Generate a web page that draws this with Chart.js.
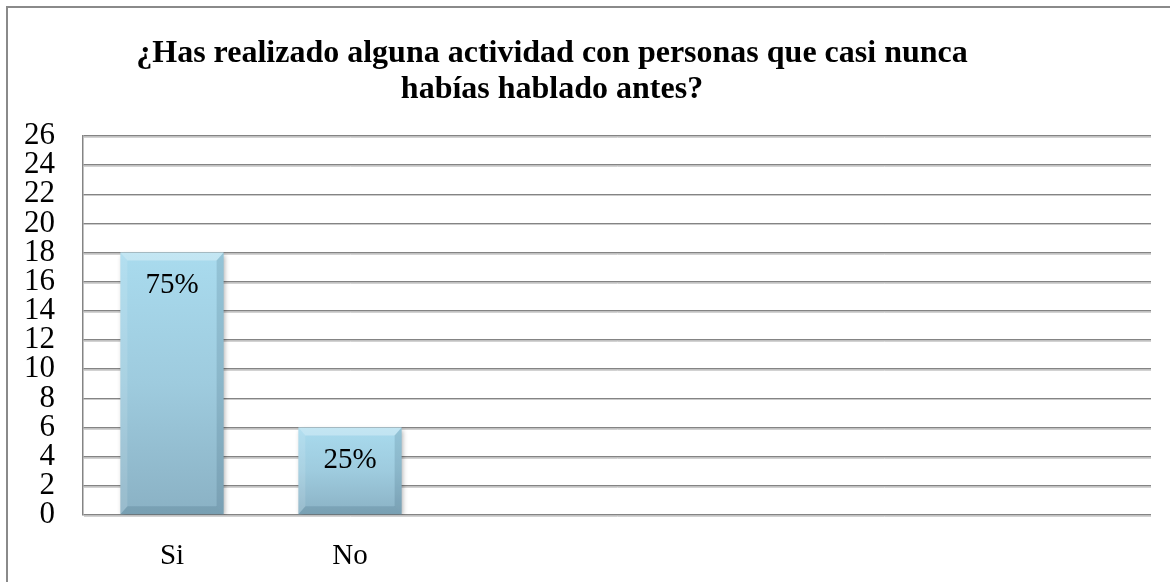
<!DOCTYPE html>
<html>
<head>
<meta charset="utf-8">
<script src="https://cdn.jsdelivr.net/npm/chart.js@4.4.0/dist/chart.umd.min.js"></script>
<style>
  html, body { margin: 0; padding: 0; background: #ffffff; overflow: hidden; }
  #wrap { position: absolute; left: 0; top: 0; width: 1170px; height: 582px; }
</style>
</head>
<body>
<div id="wrap"><canvas id="c"></canvas></div>
<script>
// Survey answers
const categories = ['Si', 'No', '', '', '', ''];
const respuestas = [18, 6];
const yTicks = [0, 2, 4, 6, 8, 10, 12, 14, 16, 18, 20, 22, 24, 26];
const titleLines = [
  '¿Has realizado alguna actividad con personas que casi nunca',
  'habías hablado antes?'
];

const total = respuestas.reduce((a, b) => a + b, 0);
const percentLabels = respuestas.map(v => Math.round(v / total * 100) + '%');

const SERIF = '"Liberation Serif", "Times New Roman", serif';

// vertical light-to-steel-blue fill for each bar
function barFill(context) {
  const chart = context.chart;
  const y = chart.scales && chart.scales.y;
  const v = context.raw;
  if (!y || v === undefined || v === null) return '#9fcadb';
  const top = y.getPixelForValue(v);
  const base = y.getPixelForValue(0);
  if (!isFinite(top) || !isFinite(base)) return '#9fcadb';
  const g = chart.ctx.createLinearGradient(0, top, 0, base);
  g.addColorStop(0, '#a9dbee');
  g.addColorStop(0.5, '#9ecbde');
  g.addColorStop(1, '#8ab1c4');
  return g;
}

const decorations = {
  id: 'decorations',
  beforeDatasetsDraw(chart) {
    // soft light line under every grid line
    const { ctx, chartArea, scales } = chart;
    ctx.save();
    ctx.strokeStyle = 'rgba(205,205,205,0.9)';
    ctx.lineWidth = 1;
    scales.y.ticks.forEach(t => {
      const py = Math.round(scales.y.getPixelForValue(t.value)) + 1.5;
      ctx.beginPath();
      ctx.moveTo(chartArea.left + 1, py);
      ctx.lineTo(chartArea.right, py);
      ctx.stroke();
    });
    ctx.restore();
  },
  beforeDatasetDraw(chart) {
    const ctx = chart.ctx;
    ctx.save();
    ctx.shadowColor = 'rgba(0,0,0,0.35)';
    ctx.shadowBlur = 5;
    ctx.shadowOffsetX = 1.5;
    ctx.shadowOffsetY = 2;
  },
  afterDatasetDraw(chart) {
    chart.ctx.restore();
  },
  afterDatasetsDraw(chart) {
    const ctx = chart.ctx;
    const meta = chart.getDatasetMeta(0);
    const poly = (pts, color) => {
      ctx.beginPath();
      ctx.moveTo(pts[0][0], pts[0][1]);
      for (let i = 1; i < pts.length; i++) ctx.lineTo(pts[i][0], pts[i][1]);
      ctx.closePath();
      ctx.fillStyle = color;
      ctx.fill();
    };
    ctx.save();
    meta.data.forEach((bar, i) => {
      const { x, y, base, width } = bar.getProps(['x', 'y', 'base', 'width'], true);
      const l = x - width / 2, r = x + width / 2, t = y, b = base;
      const bx = 7, by = 8;
      // bevelled edges
      poly([[l, t], [r, t], [r - bx, t + by], [l + bx, t + by]], 'rgba(255,255,255,0.30)');
      poly([[l, t], [l + bx, t + by], [l + bx, b - by], [l, b]], 'rgba(255,255,255,0.12)');
      poly([[r, t], [r - bx, t + by], [r - bx, b - by], [r, b]], 'rgba(20,60,80,0.14)');
      poly([[l, b], [l + bx, b - by], [r - bx, b - by], [r, b]], 'rgba(20,60,80,0.15)');
      // value label inside the bar
      ctx.fillStyle = '#000000';
      ctx.font = '29px ' + SERIF;
      ctx.textAlign = 'center';
      ctx.textBaseline = 'middle';
      ctx.fillText(percentLabels[i], x, t + 33);
    });
    ctx.restore();
  },
  afterDraw(chart) {
    const ctx = chart.ctx;
    ctx.save();
    // outer frame (top and left edges)
    ctx.strokeStyle = '#8a8a8a';
    ctx.lineWidth = 2;
    ctx.beginPath();
    ctx.moveTo(7, chart.height);
    ctx.lineTo(7, 7);
    ctx.lineTo(chart.width, 7);
    ctx.stroke();
    // title
    ctx.fillStyle = '#000000';
    ctx.font = 'bold 32px ' + SERIF;
    ctx.textAlign = 'center';
    ctx.textBaseline = 'alphabetic';
    ctx.fillText(titleLines[0], 552, 62);
    ctx.fillText(titleLines[1], 552, 98);
    ctx.restore();
  }
};

new Chart(document.getElementById('c'), {
  type: 'bar',
  data: {
    labels: categories,
    datasets: [{
      data: respuestas,
      backgroundColor: barFill,
      borderWidth: 0,
      categoryPercentage: 1,
      barPercentage: 0.58
    }]
  },
  options: {
    responsive: true,
    maintainAspectRatio: false,
    animation: false,
    devicePixelRatio: 1,
    layout: { padding: { top: 136, right: 19, bottom: 0, left: 0 } },
    plugins: { legend: { display: false }, title: { display: false }, tooltip: { enabled: false } },
    scales: {
      x: {
        grid: { display: false, drawTicks: false },
        border: { display: false },
        ticks: { color: '#000000', font: { family: SERIF, size: 29 }, padding: 24, autoSkip: false, maxRotation: 0 },
        afterFit(s) { s.height = 67; }
      },
      y: {
        min: 0,
        max: 26,
        afterBuildTicks(s) { s.ticks = yTicks.map(v => ({ value: v })); },
        grid: { color: '#848484', lineWidth: 1.5, drawTicks: false },
        border: { display: true, color: '#848484', width: 1.5 },
        ticks: { color: '#000000', font: { family: SERIF, size: 31 }, padding: 28, autoSkip: false },
        afterFit(s) { s.width = 83; }
      }
    }
  },
  plugins: [decorations]
});
</script>
</body>
</html>
